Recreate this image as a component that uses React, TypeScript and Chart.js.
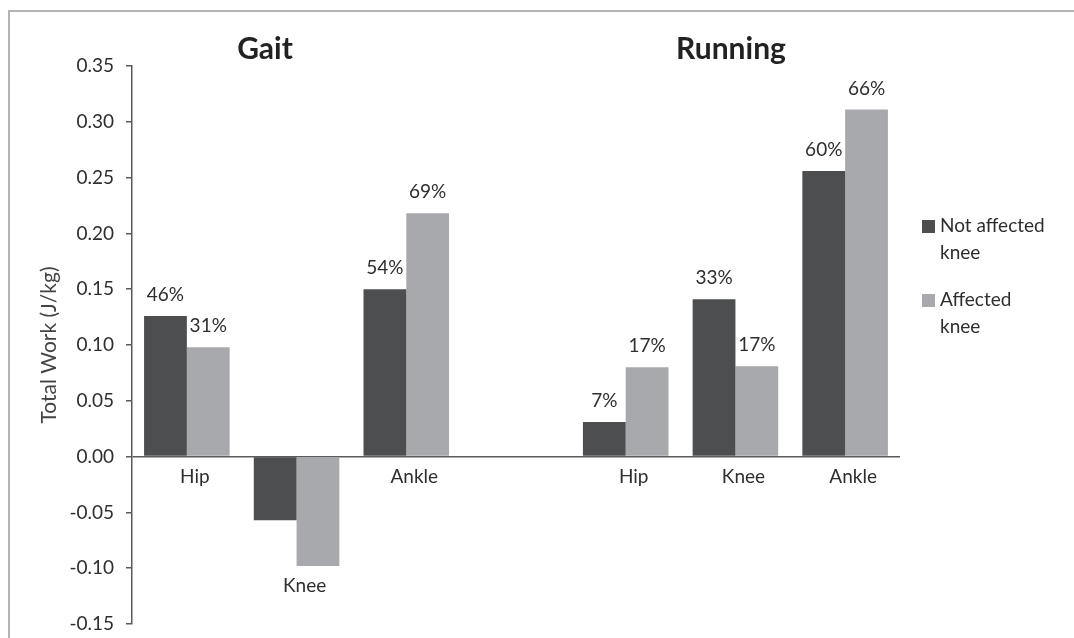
import React, { useEffect, useRef } from "react";
import { Chart, registerables } from "chart.js";
Chart.register(...registerables);

const categories = ["Hip", "Knee", "Ankle", "", "Hip", "Knee", "Ankle"];
const notAffected = [0.126, -0.057, 0.15, null, 0.031, 0.141, 0.256];
const affected = [0.098, -0.098, 0.218, null, 0.08, 0.081, 0.311];
const notAffectedPct = ["46%", "", "54%", "", "7%", "33%", "60%"];
const affectedPct = ["31%", "", "69%", "", "17%", "17%", "66%"];
const seriesNames = ["Not affected knee", "Affected knee"];
const legendLines = [["Not affected", "knee"], ["Affected", "knee"]];
const groupTitles = ["Gait", "Running"];
const yTitle = "Total Work (J/kg)";

const DARK = "#4d4e50";
const LIGHT = "#a8a9ac";
const AXIS = "#5a5a5a";
const TEXT = "#2e2e2e";
const FONT = "Lato, 'Open Sans', sans-serif";

export default function App() {
  const ref = useRef<HTMLCanvasElement | null>(null);
  useEffect(() => {
    document.body.style.margin = "0";
    document.body.style.overflow = "hidden";
    const canvas = ref.current!;
    const pcts = [notAffectedPct, affectedPct];
    const decor = {
      id: "decor",
      beforeDraw(chart: any) {
        const ctx = chart.ctx;
        ctx.save();
        ctx.fillStyle = "#fff";
        ctx.fillRect(0, 0, chart.width, chart.height);
        ctx.strokeStyle = "#b4b4b4";
        ctx.lineWidth = 2;
        ctx.strokeRect(9, 11, 1400, 1000);
        ctx.restore();
      },
      afterDatasetsDraw(chart: any) {
        const ctx = chart.ctx;
        const xs = chart.scales.x;
        const ys = chart.scales.y;
        ctx.save();
        // group titles
        ctx.fillStyle = "#222";
        ctx.font = `bold 30px ${FONT}`;
        ctx.textAlign = "center";
        ctx.textBaseline = "middle";
        ctx.fillText(groupTitles[0], 265, 49);
        ctx.fillText(groupTitles[1], 731, 49);
        // data labels
        ctx.font = `19px ${FONT}`;
        ctx.fillStyle = TEXT;
        chart.data.datasets.forEach((ds: any, di: number) => {
          const meta = chart.getDatasetMeta(di);
          meta.data.forEach((bar: any, i: number) => {
            const t = pcts[di][i];
            if (!t || ds.data[i] == null) return;
            ctx.fillText(t, bar.x, bar.y - 21);
          });
        });
        // category labels
        categories.forEach((c, i) => {
          if (!c) return;
          const lo = Math.min(0, notAffected[i] ?? 0, affected[i] ?? 0);
          const y = ys.getPixelForValue(lo) + 20;
          ctx.fillText(c, xs.getPixelForValue(i) + 8, y);
        });
        // legend
        const colors = [DARK, LIGHT];
        const tops = [220, 294];
        ctx.textAlign = "left";
        legendLines.forEach((lines, li) => {
          ctx.fillStyle = colors[li];
          ctx.fillRect(922, tops[li], 13, 13);
          ctx.fillStyle = TEXT;
          lines.forEach((ln, k) => {
            ctx.fillText(ln, 940, tops[li] + 6 + k * 27);
          });
        });
        ctx.restore();
      },
    };
    const chart = new Chart(canvas, {
      type: "bar",
      data: {
        labels: categories,
        datasets: [
          { label: seriesNames[0], data: notAffected, backgroundColor: DARK },
          { label: seriesNames[1], data: affected, backgroundColor: LIGHT },
        ],
      },
      options: {
        animation: false,
        responsive: false,
        devicePixelRatio: 1,
        layout: { padding: { left: 0, top: 66, right: 174, bottom: 14 } },
        datasets: { bar: { categoryPercentage: 0.78, barPercentage: 1.0 } },
        plugins: { legend: { display: false }, tooltip: { enabled: false }, title: { display: false } },
        scales: {
          x: { display: false, offset: true },
          y: {
            min: -0.15,
            max: 0.35,
            afterFit(scale: any) {
              scale.width = 132;
              scale.paddingTop = 0;
              scale.paddingBottom = 0;
            },
            border: { display: true, color: AXIS, width: 1.5 },
            grid: {
              drawOnChartArea: true,
              drawTicks: true,
              tickLength: 6,
              lineWidth: 1.5,
              tickColor: AXIS,
              color: (c: any) => (c.tick && Math.abs(c.tick.value) < 1e-9 ? AXIS : "rgba(0,0,0,0)"),
            },
            ticks: {
              stepSize: 0.05,
              padding: 12,
              color: TEXT,
              font: { family: FONT, size: 19 },
              callback: (v: any) => Number(v).toFixed(2),
            },
            title: {
              display: true,
              text: yTitle,
              color: "#444",
              font: { family: FONT, size: 21 },
              padding: { top: 37, bottom: 0 },
            },
          },
        },
      },
      plugins: [decor],
    });
    return () => chart.destroy();
  }, []);
  return (
    <div style={{ width: 1074, height: 638 }}>
      <canvas ref={ref} width={1074} height={638} style={{ display: "block" }} />
    </div>
  );
}
